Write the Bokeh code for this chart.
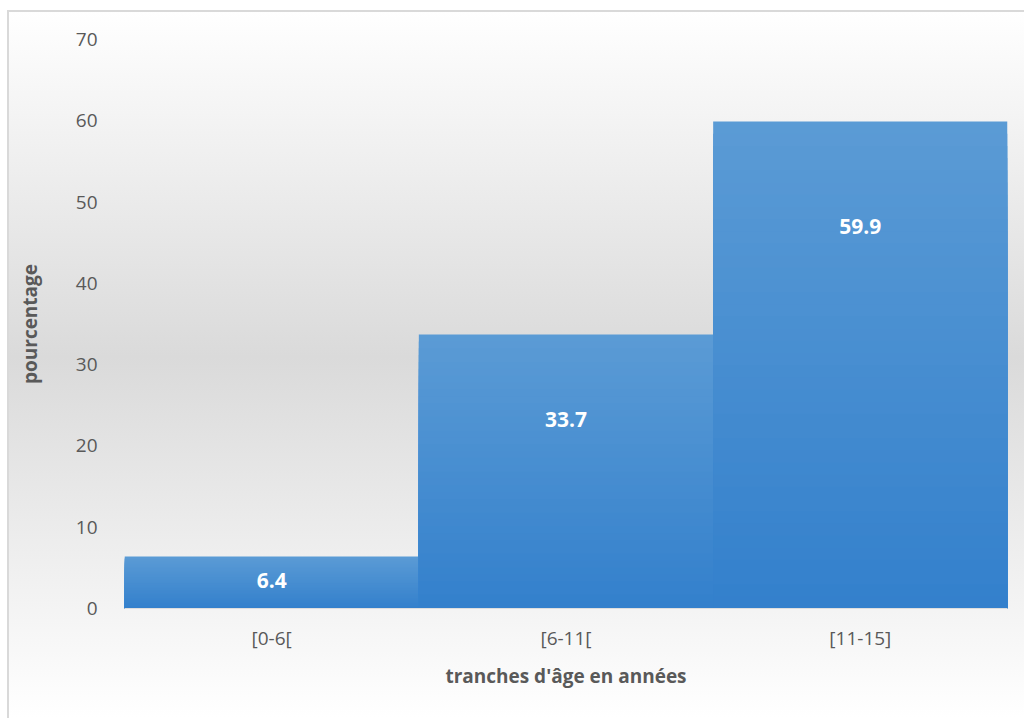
from bokeh.plotting import figure
from bokeh.models import FactorRange, Label, Range1d
from bokeh.embed import file_html
from bokeh.resources import INLINE

# ---- data ----
categories = ["[0-6[", "[6-11[", "[11-15]"]
percentages = [6.4, 33.7, 59.9]
value_labels = ["6.4", "33.7", "59.9"]
label_y = [3.4, 23.2, 47.0]   # data-label anchor heights (as placed in the reference)
y_ticks = [0, 10, 20, 30, 40, 50, 60, 70]

p = figure(x_range=FactorRange(*categories, range_padding=0), y_range=Range1d(0, 70),
           width=1017, height=708, output_backend="svg", toolbar_location=None,
           min_border_left=117, min_border_right=17, min_border_top=29, min_border_bottom=110)
p.margin = (10, 0, 0, 7)
p.styles = {
    "background": "linear-gradient(to bottom, #ffffff 0%, #dadada 49%, #ffffff 100%)",
    "box-shadow": "inset 2px 2px 0 #d9d9d9",
}

p.background_fill_alpha = 0
p.border_fill_alpha = 0
p.outline_line_color = None
p.grid.grid_line_color = None


def mix(c1, c2, t):
    return "#%02x%02x%02x" % tuple(int(round(a + (b - a) * t)) for a, b in zip(c1, c2))


# bars with vertical gradient (lighter at top, darker at bottom), drawn as overlapping layers
N = 40
top_c = (91, 155, 213)
bot_c = (51, 128, 204)
for k in range(N - 1, -1, -1):
    t = [v * (k + 1) / N for v in percentages]
    col = mix(bot_c, top_c, (k + 0.5) / N)
    p.vbar(x=categories, bottom=0, top=t, width=1.0, fill_color=col, line_color=None)

# data labels
for cat, yv, txt in zip(categories, label_y, value_labels):
    p.add_layout(Label(x=categories.index(cat) + 0.5, y=yv, text=txt, text_align="center",
                       text_baseline="middle", text_color="white", text_font="Open Sans",
                       text_font_style="bold", text_font_size="21px"))

# axes
p.yaxis.ticker = y_ticks
p.yaxis.axis_line_color = None
p.yaxis.major_tick_line_color = None
p.yaxis.minor_tick_line_color = None
p.yaxis.major_label_standoff = 21
p.yaxis.axis_label = "pourcentage"
p.yaxis.axis_label_standoff = 30

p.xaxis.axis_line_color = "#dedede"
p.xaxis.major_tick_line_color = None
p.xaxis.major_label_standoff = 10
p.xaxis.axis_label = "tranches d'âge en années"
p.xaxis.axis_label_standoff = 9

for ax in (p.xaxis, p.yaxis):
    ax.major_label_text_font = "Open Sans"
    ax.major_label_text_font_size = "19px"
    ax.major_label_text_color = "#595959"
    ax.axis_label_text_font = "Open Sans"
    ax.axis_label_text_font_size = "19px"
    ax.axis_label_text_font_style = "bold"
    ax.axis_label_text_color = "#595959"

open("out.html", "w").write(file_html(p, INLINE))
